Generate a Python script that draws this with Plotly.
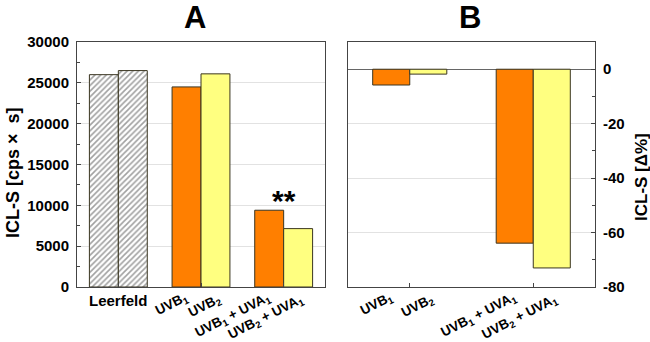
import plotly.graph_objects as go

# ---- data ----
groups_a = ["Leerfeld", "UVB", "UVB+UVA1"]
first_a = [26000, 24500, 9400]      # Leerfeld 1, UVB1, UVB1+UVA1
second_a = [26500, 26100, 7150]     # Leerfeld 2, UVB2, UVB2+UVA1
groups_b = ["UVB", "UVB+UVA1"]
first_b = [-5.8, -63.9]
second_b = [-1.8, -73.0]
labels_first = ["UVB<sub>1</sub>", "UVB<sub>1</sub> + UVA<sub>1</sub>"]
labels_second = ["UVB<sub>2</sub>", "UVB<sub>2</sub> + UVA<sub>1</sub>"]
ticks_a = [0, 5000, 10000, 15000, 20000, 25000, 30000]
ticks_b = [0, -20, -40, -60, -80]

W, H = 650, 342
ORANGE = "#FF7F00"
YELLOW = "#FFFF80"
EDGE = "#3a3520"
FONT = "Liberation Sans, Arial, sans-serif"

def px(x):
    return x / W

def py(y):
    return 1 - y / H

xa = list(range(len(groups_a)))
xb = list(range(len(groups_b)))

fig = go.Figure()

wa = 0.35
hatch = dict(shape=["/", "", ""], fgcolor="#444444", bgcolor="white", size=4, solidity=0.4)
fig.add_trace(go.Bar(
    x=xa, y=first_a, width=wa, offset=-wa, xaxis="x", yaxis="y",
    marker=dict(color=["white", ORANGE, ORANGE],
                line=dict(color=EDGE, width=1), pattern=hatch),
    showlegend=False))
fig.add_trace(go.Bar(
    x=xa, y=second_a, width=wa, offset=0, xaxis="x", yaxis="y",
    marker=dict(color=["white", YELLOW, YELLOW],
                line=dict(color=EDGE, width=1), pattern=hatch),
    showlegend=False))

wb = 0.3
fig.add_trace(go.Bar(
    x=xb, y=first_b, width=wb, offset=-wb, xaxis="x2", yaxis="y2",
    marker=dict(color=ORANGE, line=dict(color=EDGE, width=1)), showlegend=False))
fig.add_trace(go.Bar(
    x=xb, y=second_b, width=wb, offset=0, xaxis="x2", yaxis="y2",
    marker=dict(color=YELLOW, line=dict(color=EDGE, width=1)), showlegend=False))

ydom = [py(287), py(42)]
axis_line = "#444444"
tickfont = dict(family=FONT, size=15, color="black", weight="bold")

fig.update_layout(
    width=W, height=H, margin=dict(l=0, r=0, t=0, b=0, autoexpand=False),
    paper_bgcolor="white", plot_bgcolor="white",
    barmode="overlay",
    font=dict(family=FONT, color="black"),
    xaxis=dict(domain=[px(77), px(325)], range=[-0.5, 2.5], tickvals=xa,
               showticklabels=False, ticks="inside", ticklen=4, tickcolor=axis_line,
               showline=True, linecolor=axis_line, mirror=True, showgrid=False,
               zeroline=False, automargin=False),
    yaxis=dict(domain=ydom, range=[0, 30000], tickvals=ticks_a,
               ticktext=[str(t) for t in ticks_a],
               ticks="inside", ticklen=4, tickcolor=axis_line,
               minor=dict(dtick=2500, ticks="inside", ticklen=3, tickcolor=axis_line, showgrid=False),
               showline=True, linecolor=axis_line, mirror=True,
               showgrid=True, gridcolor="#e2e2e2", gridwidth=1,
               zeroline=False, tickfont=tickfont, ticklabelstandoff=4, automargin=False),
    xaxis2=dict(domain=[px(348), px(595)], range=[-0.5, 1.5], tickvals=xb,
                showticklabels=False, ticks="inside", ticklen=4, tickcolor=axis_line,
                showline=True, linecolor=axis_line, mirror=True, showgrid=False,
                zeroline=False, anchor="y2", automargin=False),
    yaxis2=dict(domain=ydom, range=[-80, 10], tickvals=ticks_b,
                ticktext=[str(t) for t in ticks_b], side="right",
                anchor="x2",
                ticks="inside", ticklen=4, tickcolor=axis_line,
                minor=dict(dtick=10, ticks="inside", ticklen=3, tickcolor=axis_line, showgrid=False),
                showline=True, linecolor=axis_line, mirror=True,
                showgrid=True, gridcolor="#e2e2e2", gridwidth=1,
                zeroline=True, zerolinecolor="#666666", zerolinewidth=1,
                tickfont=tickfont, ticklabelstandoff=4, automargin=False),
)

ann = []
# panel titles
ann.append(dict(text="<b>A</b>", x=px(195), y=1, xref="paper", yref="paper",
                showarrow=False, font=dict(size=31, family=FONT), xanchor="center", yanchor="top",
                yshift=2))
ann.append(dict(text="<b>B</b>", x=px(470), y=1, xref="paper", yref="paper",
                showarrow=False, font=dict(size=31, family=FONT), xanchor="center", yanchor="top",
                yshift=2))
# y titles
ann.append(dict(text="<b>ICL-S [cps\u00a0\u00d7\u00a0 s]</b>", x=px(13), y=py(173), xref="paper", yref="paper",
                showarrow=False, textangle=-90, font=dict(size=18, family=FONT),
                xanchor="center", yanchor="middle"))
ann.append(dict(text="<b>ICL-S [\u0394%]</b>", x=px(641), y=py(177), xref="paper", yref="paper",
                showarrow=False, textangle=-90, font=dict(size=17, family=FONT),
                xanchor="center", yanchor="middle"))
# significance
ann.append(dict(text="<b>**</b>", x=2, y=first_a[2], xref="x", yref="y",
                showarrow=False, font=dict(size=30, family=FONT),
                xanchor="center", yanchor="bottom", yshift=-9))
# x labels
lab_font = dict(size=13.5, family=FONT)
ann.append(dict(text="<b>Leerfeld</b>", x=0, y=py(290), xref="x", yref="paper",
                showarrow=False, font=dict(size=15, family=FONT), xanchor="center", yanchor="top"))
ang = -27
for i, (l1, l2) in enumerate(zip(labels_first, labels_second)):
    ann.append(dict(text="<b>" + l1 + "</b>", x=i + 1 - wa / 2, y=py(287), xref="x", yref="paper",
                    showarrow=False, textangle=ang, font=lab_font,
                    xanchor="right", yanchor="top", xshift=7))
    ann.append(dict(text="<b>" + l2 + "</b>", x=i + 1 + wa / 2, y=py(289), xref="x", yref="paper",
                    showarrow=False, textangle=ang, font=lab_font,
                    xanchor="right", yanchor="top", xshift=11))
    ann.append(dict(text="<b>" + l1 + "</b>", x=i - wb / 2, y=py(287), xref="x2", yref="paper",
                    showarrow=False, textangle=ang, font=lab_font,
                    xanchor="right", yanchor="top", xshift=7))
    ann.append(dict(text="<b>" + l2 + "</b>", x=i + wb / 2, y=py(289), xref="x2", yref="paper",
                    showarrow=False, textangle=ang, font=lab_font,
                    xanchor="right", yanchor="top", xshift=11))

fig.update_layout(annotations=ann)
fig.write_html("out.html")
